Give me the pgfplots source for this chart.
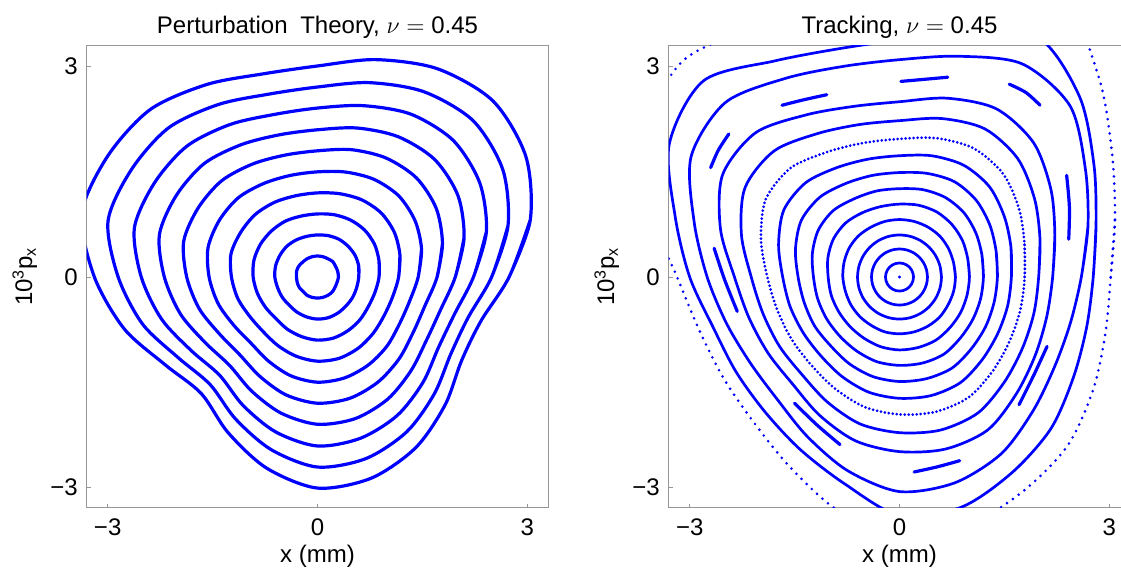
\documentclass[border=0pt]{standalone}
\usepackage{fontspec}
\setmainfont{Liberation Sans}
\usepackage{pgfplots}
\usepackage{pgfplotstable}
\pgfplotsset{compat=1.18}
\usepgfplotslibrary{polar}
\definecolor{cv}{RGB}{0,0,255}
\definecolor{fr}{RGB}{150,150,150}

% Perturbation theory: radius of each invariant curve at polar angle ang (degrees)
\pgfplotstableread{
ang r1 r2 r3 r4 r5 r6 r7 r8 r9 r10
0 0.30 0.59 0.88 1.16 1.44 1.71 1.97 2.23 2.49 2.74
15 0.30 0.61 0.91 1.22 1.54 1.85 2.17 2.50 2.82 3.15
30 0.30 0.62 0.94 1.27 1.61 1.96 2.32 2.68 3.06 3.44
45 0.31 0.62 0.95 1.29 1.64 2.00 2.37 2.75 3.15 3.55
60 0.30 0.62 0.94 1.27 1.61 1.96 2.31 2.68 3.05 3.43
75 0.30 0.61 0.92 1.23 1.55 1.88 2.20 2.53 2.87 3.21
90 0.30 0.60 0.90 1.20 1.50 1.80 2.10 2.41 2.71 3.01
105 0.30 0.60 0.90 1.20 1.50 1.80 2.10 2.40 2.70 3.00
120 0.30 0.61 0.92 1.23 1.54 1.86 2.18 2.51 2.84 3.17
135 0.30 0.62 0.93 1.26 1.60 1.94 2.29 2.64 3.01 3.38
150 0.31 0.62 0.94 1.27 1.62 1.97 2.33 2.69 3.07 3.46
165 0.31 0.62 0.94 1.28 1.62 1.98 2.34 2.71 3.10 3.49
180 0.30 0.61 0.92 1.23 1.55 1.87 2.19 2.52 2.85 3.19
195 0.30 0.59 0.89 1.18 1.47 1.75 2.03 2.31 2.59 2.86
210 0.30 0.58 0.86 1.12 1.38 1.62 1.86 2.09 2.30 2.51
225 0.29 0.57 0.84 1.10 1.34 1.57 1.78 1.98 2.17 2.35
240 0.30 0.58 0.86 1.13 1.39 1.64 1.88 2.12 2.34 2.56
255 0.30 0.59 0.88 1.17 1.46 1.74 2.01 2.29 2.55 2.82
270 0.30 0.60 0.90 1.20 1.50 1.80 2.10 2.41 2.71 3.01
285 0.30 0.60 0.90 1.20 1.49 1.79 2.09 2.38 2.68 2.97
300 0.30 0.59 0.88 1.17 1.45 1.73 2.01 2.28 2.55 2.81
315 0.30 0.58 0.86 1.13 1.40 1.65 1.89 2.13 2.36 2.58
330 0.29 0.58 0.84 1.10 1.35 1.58 1.80 2.00 2.20 2.38
345 0.29 0.58 0.85 1.11 1.36 1.59 1.82 2.03 2.23 2.42
360 0.30 0.59 0.88 1.16 1.44 1.71 1.97 2.23 2.49 2.74
375 0.30 0.61 0.91 1.22 1.54 1.85 2.17 2.50 2.82 3.15
}\tabL

% Tracking: closed curves c1..c12, outer solid curve e, outer dotted curve d
\pgfplotstableread{
ang c1 c2 c3 c4 c5 c6 c7 c8 c9 c10 c11 c12 e d
0 0.20 0.40 0.60 0.80 1.00 1.20 1.40 1.60 1.79 1.99 2.19 2.60 2.77 3.02
15 0.20 0.40 0.60 0.80 1.01 1.22 1.43 1.65 1.85 2.08 2.30 2.79 2.91 3.19
30 0.20 0.40 0.60 0.81 1.04 1.26 1.49 1.73 1.97 2.23 2.50 3.07 3.21 3.51
45 0.20 0.40 0.60 0.82 1.06 1.30 1.55 1.82 2.09 2.39 2.71 3.45 3.64 4.03
60 0.20 0.40 0.60 0.82 1.07 1.31 1.57 1.84 2.12 2.44 2.77 3.51 3.95 4.60
75 0.20 0.40 0.60 0.82 1.06 1.29 1.53 1.79 2.05 2.34 2.64 3.26 3.58 3.90
90 0.20 0.40 0.60 0.82 1.04 1.26 1.49 1.73 1.97 2.23 2.50 3.10 3.38 3.80
105 0.20 0.40 0.60 0.82 1.04 1.27 1.50 1.74 1.98 2.25 2.52 3.11 3.37 3.90
120 0.20 0.40 0.60 0.82 1.06 1.29 1.54 1.80 2.06 2.36 2.67 3.27 3.56 4.10
135 0.20 0.40 0.60 0.83 1.09 1.34 1.61 1.90 2.20 2.54 2.91 3.52 3.96 4.37
150 0.20 0.40 0.60 0.83 1.09 1.34 1.62 1.91 2.21 2.55 2.92 3.44 3.80 4.20
165 0.20 0.40 0.60 0.82 1.06 1.29 1.54 1.79 2.05 2.34 2.65 3.04 3.32 3.70
180 0.20 0.40 0.60 0.81 1.02 1.23 1.45 1.67 1.89 2.12 2.36 2.75 3.00 3.18
195 0.20 0.40 0.60 0.80 1.01 1.21 1.41 1.62 1.81 2.02 2.23 2.56 2.76 2.96
210 0.20 0.40 0.60 0.80 1.00 1.20 1.40 1.59 1.78 1.98 2.17 2.46 2.70 2.90
225 0.20 0.40 0.60 0.80 1.00 1.20 1.39 1.59 1.78 1.97 2.16 2.47 2.72 2.94
240 0.20 0.40 0.60 0.80 1.01 1.22 1.43 1.64 1.84 2.06 2.28 2.63 2.84 3.13
255 0.20 0.40 0.60 0.81 1.03 1.25 1.47 1.70 1.92 2.17 2.42 2.86 3.05 3.44
270 0.20 0.40 0.60 0.81 1.04 1.26 1.49 1.73 1.96 2.22 2.49 3.06 3.40 3.70
285 0.20 0.40 0.60 0.81 1.04 1.27 1.50 1.75 1.99 2.26 2.54 3.04 3.40 3.68
300 0.20 0.40 0.60 0.81 1.04 1.27 1.50 1.74 1.98 2.24 2.52 2.91 3.22 3.53
315 0.20 0.40 0.60 0.81 1.02 1.23 1.45 1.67 1.89 2.12 2.36 2.70 3.06 3.40
330 0.20 0.40 0.60 0.80 1.01 1.21 1.42 1.62 1.82 2.03 2.24 2.56 2.87 3.20
345 0.20 0.40 0.60 0.80 1.00 1.20 1.40 1.60 1.79 1.99 2.18 2.53 2.77 3.05
360 0.20 0.40 0.60 0.80 1.00 1.20 1.40 1.60 1.79 1.99 2.19 2.60 2.77 3.02
375 0.20 0.40 0.60 0.80 1.01 1.22 1.43 1.65 1.85 2.08 2.30 2.79 2.91 3.19
}\tabR

\pgfplotsset{
  every axis title/.style={at={(axis description cs:0.5,1)}, anchor=base,
    yshift=6pt, font=\fontsize{12}{14}\selectfont},
  panel/.style={
    scale only axis, width=230.8pt, height=231.2pt,
    xmin=-3.3, xmax=3.3, ymin=-3.29, ymax=3.305,
    xtick={-3,0,3}, ytick={-3,0,3},
    xticklabels={−3,0,3}, yticklabels={−3,0,3},
    tick pos=left, tick align=inside, major tick length=2pt,
    axis line style={draw=fr, line width=0.5pt},
    tick style={draw=fr, line width=0.5pt},
    tick label style={font=\fontsize{12}{14}\selectfont},
    xticklabel style={yshift=-2.15pt},
    yticklabel style={xshift=-1pt},
    label style={font=\fontsize{12}{14}\selectfont},
    xlabel={x (mm)},
    ylabel={10\textsuperscript{3}p\textsubscript{x}},
    xlabel style={at={(axis description cs:0.5,0)}, anchor=base, yshift=-27.5pt},
    ylabel style={at={(axis description cs:-0.118,0.5)}, anchor=base},
  },
  pt/.style={cv, line width=1.6pt, smooth, no markers, data cs=polar},
  tr/.style={cv, line width=1.35pt, smooth, no markers, data cs=polar},
  isl/.style={cv, line width=1.6pt, smooth, no markers, line cap=round},
}

\begin{document}
\begin{tikzpicture}
\begin{axis}[panel, at={(43.35pt,33.15pt)}, anchor=south west,
  title={Perturbation\hspace{0.25em} Theory, $\nu =$ 0.45}]
\addplot[pt] table[x=ang, y=r1] {\tabL};
\addplot[pt] table[x=ang, y=r2] {\tabL};
\addplot[pt] table[x=ang, y=r3] {\tabL};
\addplot[pt] table[x=ang, y=r4] {\tabL};
\addplot[pt] table[x=ang, y=r5] {\tabL};
\addplot[pt] table[x=ang, y=r6] {\tabL};
\addplot[pt] table[x=ang, y=r7] {\tabL};
\addplot[pt] table[x=ang, y=r8] {\tabL};
\addplot[pt] table[x=ang, y=r9] {\tabL};
\addplot[pt] table[x=ang, y=r10] {\tabL};
\end{axis}

\begin{axis}[panel, at={(334.35pt,33.15pt)}, anchor=south west,
  title={Tracking, $\nu =$ 0.45}]
\addplot[tr] table[x=ang, y=c1] {\tabR};
\addplot[tr] table[x=ang, y=c2] {\tabR};
\addplot[tr] table[x=ang, y=c3] {\tabR};
\addplot[tr] table[x=ang, y=c4] {\tabR};
\addplot[tr] table[x=ang, y=c5] {\tabR};
\addplot[tr] table[x=ang, y=c6] {\tabR};
\addplot[tr] table[x=ang, y=c7] {\tabR};
\addplot[tr] table[x=ang, y=c8] {\tabR};
\addplot[tr, line width=1.5pt, line cap=round, dash pattern=on 0pt off 2pt] table[x=ang, y=c9] {\tabR};
\addplot[tr] table[x=ang, y=c10] {\tabR};
\addplot[tr] table[x=ang, y=c11] {\tabR};
\addplot[tr] table[x=ang, y=c12] {\tabR};
\addplot[tr] table[x=ang, y=e] {\tabR};
\addplot[tr, line width=1.45pt, line cap=round, dash pattern=on 0pt off 3.6pt] table[x=ang, y=d] {\tabR};
% island chain
\addplot[isl] coordinates {(0.02,2.79) (0.36,2.82) (0.69,2.85)};
\addplot[isl] coordinates {(-1.68,2.45) (-1.36,2.53) (-1.04,2.60)};
\addplot[isl] coordinates {(1.57,2.75) (1.81,2.63) (2.01,2.45)};
\addplot[isl] coordinates {(-2.44,2.04) (-2.59,1.81) (-2.70,1.56)};
\addplot[isl] coordinates {(2.39,1.45) (2.43,0.99) (2.42,0.54)};
\addplot[isl] coordinates {(-2.65,0.41) (-2.50,-0.04) (-2.32,-0.49)};
\addplot[isl] coordinates {(2.11,-0.99) (1.92,-1.40) (1.71,-1.82)};
\addplot[isl] coordinates {(-1.50,-1.80) (-1.18,-2.11) (-0.85,-2.39)};
\addplot[isl] coordinates {(0.21,-2.78) (0.53,-2.71) (0.86,-2.62)};
\addplot[cv, only marks, mark=*, mark size=0.5pt] coordinates {(0,0)};
\end{axis}
\pgfresetboundingbox
\useasboundingbox (0,0) rectangle (560.5pt,287pt);
\end{tikzpicture}
\end{document}
